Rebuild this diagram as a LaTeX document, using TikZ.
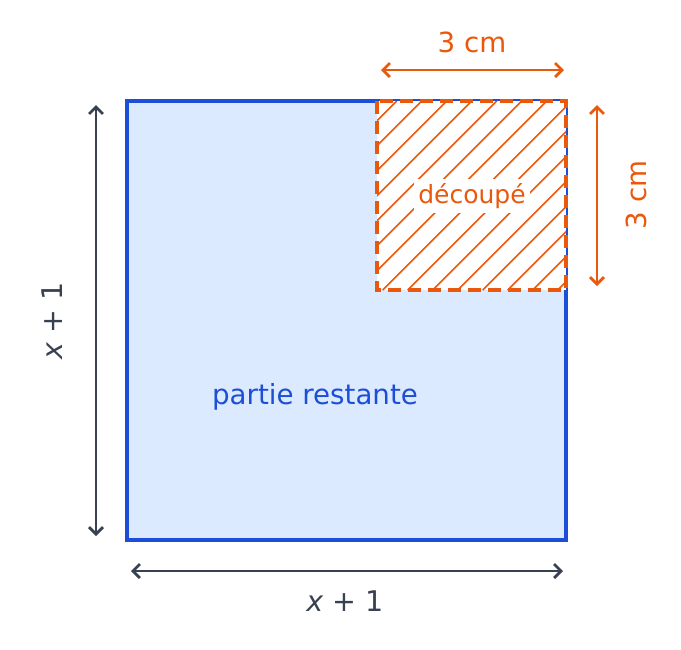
\documentclass[tikz,border=0pt]{standalone}
\usepackage{fontspec}
\setmainfont{DejaVu Sans}
\usetikzlibrary{arrows.meta}
\definecolor{sqblue}{HTML}{1D4ED8}
\definecolor{sqfill}{HTML}{DBEAFE}
\definecolor{cutor}{HTML}{EA580C}
\definecolor{dimgray}{HTML}{374151}
\begin{document}
\begin{tikzpicture}[x=1pt,y=-1pt,
  dimarrow/.style={line width=2.8pt,{Straight Barb[length=7pt,width=14pt]}-{Straight Barb[length=7pt,width=14pt]}},
  lbl/.style={inner sep=0pt,font=\fontsize{27.7}{32}\selectfont},
  hatchline/.style={cutor,line width=1.7pt}]
\useasboundingbox (0,0) rectangle (681,649);
% main square
\coordinate (A) at (127,101);
\coordinate (B) at (566,540);
\draw[sqblue,line width=3.6pt,fill=sqfill] (A) rectangle (B);
% cut-out
\coordinate (C1) at (377,101);
\coordinate (C2) at (566,290);
\fill[white] (C1) rectangle (C2);
\begin{scope}
  \clip (C1) rectangle (C2);
  \foreach \k in {-10,...,14} {
    \pgfmathsetmacro{\c}{497.7+25*\k}
    \draw[hatchline] ({\c-101},101) -- ({\c-290},290);
  }
\end{scope}
\draw[cutor,line width=3.6pt,dash pattern=on 13pt off 7pt] (C1) rectangle (C2);
\node[lbl,fill=white,inner sep=4pt,text=cutor,font=\fontsize{25}{29}\selectfont] (cut) at (472,196) {découpé};
% remaining label
\node[lbl,text=sqblue] (rest) at (315,397) {partie restante};
% top dimension
\coordinate (t1) at (381,70);
\coordinate (t2) at (564,70);
\draw[dimarrow,cutor] (t1) -- (t2);
\node[lbl,text=cutor] (tl) at (472,42) {3 cm};
% right dimension
\coordinate (r1) at (597,105);
\coordinate (r2) at (597,286);
\draw[dimarrow,cutor] (r1) -- (r2);
\node[lbl,text=cutor,rotate=90] (rl) at (636,195) {3 cm};
% left dimension
\coordinate (l1) at (96,105);
\coordinate (l2) at (96,536);
\draw[dimarrow,dimgray] (l1) -- (l2);
\node[lbl,text=dimgray,rotate=90,font=\fontsize{28.5}{32}\selectfont] (ll) at (52,321) {\textit{x} + 1};
% bottom dimension
\coordinate (b1) at (131,571);
\coordinate (b2) at (563,571);
\draw[dimarrow,dimgray] (b1) -- (b2);
\node[lbl,text=dimgray,font=\fontsize{28.5}{32}\selectfont] (bl) at (345,601) {\textit{x} + 1};
\end{tikzpicture}
\end{document}
